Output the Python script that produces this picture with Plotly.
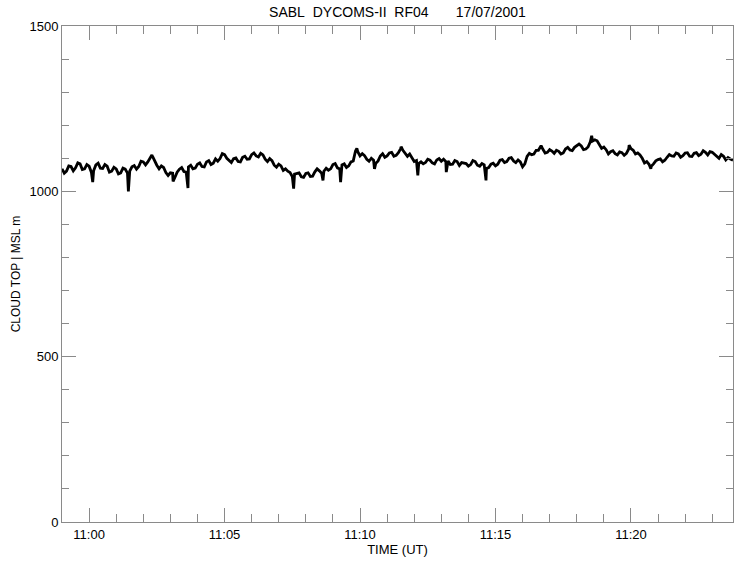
import datetime as dt
import plotly.graph_objects as go

# Cloud-top altitude (m MSL) on the 10 s grid, offsets in seconds from 11:00:00 UT
sample_offsets_s = list(range(-60, 1421, 10)) + [1426]
cloud_top_m = [
    1068, 1061, 1075, 1071, 1083, 1068, 1076, 1062, 1085, 1069,
    1076, 1061, 1068, 1056, 1067, 1061, 1078, 1075, 1089, 1089,
    1107, 1079, 1077, 1057, 1056, 1042, 1067, 1060, 1074, 1068,
    1082, 1075, 1089, 1081, 1098, 1099, 1111, 1092, 1099, 1090,
    1103, 1097, 1111, 1107, 1115, 1097, 1099, 1079, 1082, 1063,
    1061, 1045, 1055, 1044, 1054, 1045, 1059, 1062, 1061, 1064,
    1081, 1071, 1080, 1072, 1089, 1122, 1107, 1108, 1091, 1094,
    1092, 1114, 1107, 1118, 1109, 1129, 1114, 1113, 1090, 1084,
    1083, 1097, 1086, 1095, 1091, 1090, 1081, 1093, 1078, 1085,
    1076, 1093, 1079, 1084, 1069, 1082, 1077, 1094, 1087, 1100,
    1092, 1095, 1074, 1106, 1111, 1124, 1133, 1116, 1126, 1115,
    1121, 1116, 1133, 1123, 1139, 1137, 1128, 1150, 1156, 1141,
    1134, 1113, 1123, 1110, 1117, 1115, 1129, 1113, 1110, 1086,
    1082, 1083, 1096, 1089, 1103, 1107, 1116, 1103, 1116, 1106,
    1115, 1108, 1123, 1110, 1118, 1103, 1111, 1095, 1098, 1094,
]

# Intermediate samples half-way between the 10 s grid points
mid_offsets_s = list(range(-55, 1416, 10))
mid_cloud_top_m = [
    1055, 1077, 1062, 1086, 1066, 1081, 1058, 1080, 1070, 1081,
    1058, 1073, 1053, 1070, 1055, 1074, 1067, 1091, 1080, 1102,
    1090, 1068, 1072, 1048, 1055, 1058, 1072, 1058, 1079, 1070,
    1086, 1074, 1093, 1085, 1091, 1114, 1100, 1087, 1101, 1089,
    1106, 1098, 1116, 1104, 1110, 1090, 1093, 1073, 1077, 1068,
    1057, 1052, 1056, 1042, 1056, 1046, 1068, 1055, 1070, 1068,
    1084, 1068, 1083, 1077, 1092, 1120, 1114, 1097, 1100, 1085,
    1107, 1103, 1116, 1106, 1117, 1124, 1106, 1103, 1093, 1089,
    1087, 1094, 1083, 1099, 1097, 1092, 1082, 1090, 1087, 1084,
    1081, 1090, 1076, 1080, 1072, 1085, 1082, 1096, 1090, 1102,
    1087, 1089, 1083, 1115, 1113, 1124, 1127, 1118, 1122, 1124,
    1113, 1128, 1125, 1133, 1143, 1126, 1134, 1152, 1153, 1130,
    1126, 1120, 1114, 1119, 1109, 1128, 1124, 1116, 1100, 1090,
    1076, 1092, 1098, 1094, 1111, 1106, 1113, 1108, 1117, 1105,
    1117, 1112, 1118, 1120, 1112, 1100, 1106, 1102,
]

# Short excursions (drop-outs and peaks) between regular samples
spike_offsets_s = [8, 87, 139, 186, 219, 453, 518, 557, 593, 632,
                   691, 728, 791, 879, 1001, 1113, 1196, 1244]
spike_top_m = [1028, 1000, 1110, 1030, 1010, 1008, 1033, 1028, 1130, 1068,
               1135, 1048, 1058, 1033, 1138, 1168, 1140, 1068]

for offs, vals in ((sample_offsets_s, cloud_top_m),
                   (mid_offsets_s, mid_cloud_top_m),
                   (spike_offsets_s, spike_top_m)):
    if len(offs) != len(vals):
        raise ValueError(f"length mismatch: {len(offs)} times vs {len(vals)} values")

flight_day = dt.datetime(2001, 7, 17, 11, 0, 0)
x_start = flight_day - dt.timedelta(seconds=60)
x_end = flight_day + dt.timedelta(seconds=1426)

pairs = sorted(zip(sample_offsets_s + mid_offsets_s + spike_offsets_s,
                   cloud_top_m + mid_cloud_top_m + spike_top_m))
times = [flight_day + dt.timedelta(seconds=s) for s, _ in pairs]
alts = [v for _, v in pairs]

FONT = "Liberation Sans, Arial, sans-serif"
AXIS_GREY = "#8a8a8a"

fig = go.Figure(
    go.Scatter(
        x=times, y=alts, mode="lines",
        line=dict(color="black", width=2.8),
        hoverinfo="skip", showlegend=False,
    )
)

fig.update_layout(
    width=734, height=561,
    margin=dict(l=62, r=1, t=26, b=39),
    paper_bgcolor="white", plot_bgcolor="white",
    font=dict(family=FONT, size=13, color="black"),
    title=dict(
        text="SABL\u00a0\u00a0DYCOMS-II\u00a0\u00a0RF04\u00a0\u00a0\u00a0\u00a0\u00a0\u00a0\u00a017/07/2001",
        x=0.5, xref="paper", xanchor="center",
        y=1 - 12 / 561, yanchor="middle",
        font=dict(family=FONT, size=14, color="black"),
    ),
)

fig.update_xaxes(
    type="date",
    range=[x_start, x_end],
    tickformat="%H:%M",
    dtick=300000,
    tick0=flight_day,
    ticks="inside", ticklen=14, tickcolor=AXIS_GREY, tickwidth=1,
    minor=dict(dtick=60000, tick0=flight_day, ticks="inside", ticklen=8,
               tickcolor=AXIS_GREY, showgrid=False),
    showline=True, linecolor=AXIS_GREY, linewidth=1, mirror="ticks",
    showgrid=False, zeroline=False,
    tickfont=dict(family=FONT, size=13, color="black"),
    title=dict(text="TIME (UT)", standoff=2,
               font=dict(family=FONT, size=13, color="black")),
)

fig.update_yaxes(
    range=[0, 1500],
    dtick=500, tick0=0,
    ticks="inside", ticklen=14, tickcolor=AXIS_GREY, tickwidth=1,
    minor=dict(dtick=100, ticks="inside", ticklen=7,
               tickcolor=AXIS_GREY, showgrid=False),
    showline=True, linecolor=AXIS_GREY, linewidth=1, mirror="ticks",
    showgrid=False, zeroline=False,
    tickfont=dict(family=FONT, size=13, color="black"),
    title=dict(text="CLOUD TOP | MSL m", standoff=6,
               font=dict(family=FONT, size=12, color="black")),
)

fig.write_html("out.html")
